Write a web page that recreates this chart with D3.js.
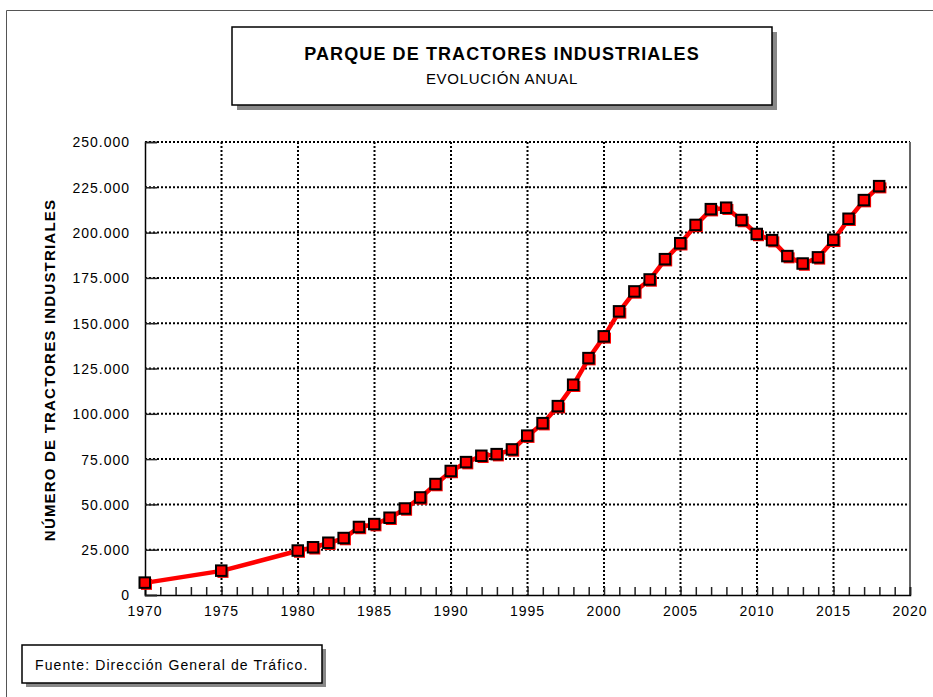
<!DOCTYPE html>
<html>
<head>
<meta charset="utf-8">
<script src="https://cdn.jsdelivr.net/npm/d3@7"></script>
<style>
  body { margin: 0; background: #fff; }
  text { font-family: "Liberation Sans", Arial, sans-serif; fill: #000; }
</style>
</head>
<body>
<div id="chart"></div>
<script>
// Data
var years = [1970, 1975, 1980, 1981, 1982, 1983, 1984, 1985, 1986, 1987, 1988, 1989,
  1990, 1991, 1992, 1993, 1994, 1995, 1996, 1997, 1998, 1999, 2000, 2001, 2002,
  2003, 2004, 2005, 2006, 2007, 2008, 2009, 2010, 2011, 2012, 2013, 2014, 2015,
  2016, 2017, 2018];
var tractors = [6700, 13300, 24400, 26200, 28700, 31300, 37400, 39000, 42500, 47600,
  53700, 61100, 68300, 73200, 76700, 77600, 80200, 87800, 94700, 104100, 115900,
  130600, 142600, 156400, 167400, 174000, 185200, 194000, 204100, 212800, 213600,
  206800, 199100, 195700, 186900, 182800, 186200, 195900, 207500, 217800, 225500];
var xTicks = [1970, 1975, 1980, 1985, 1990, 1995, 2000, 2005, 2010, 2015, 2020];
var yTicks = [0, 25000, 50000, 75000, 100000, 125000, 150000, 175000, 200000, 225000, 250000];

var svgWidth = 933;
var svgHeight = 697;

var margin = { top: 142, right: 23, bottom: 102, left: 145 };
var width = svgWidth - margin.left - margin.right;
var height = svgHeight - margin.top - margin.bottom;

var svg = d3.select("#chart")
  .append("svg")
  .attr("width", svgWidth)
  .attr("height", svgHeight);

// Outer frame (top and left edges only)
svg.append("path")
  .attr("d", "M6.5,697 V10.5 H933")
  .attr("fill", "none")
  .attr("stroke", "#555")
  .attr("stroke-width", 1);

// Title box with shadow
svg.append("rect").attr("x", 237).attr("y", 32).attr("width", 540).attr("height", 78).attr("fill", "#888");
svg.append("rect").attr("x", 232).attr("y", 27).attr("width", 540).attr("height", 78)
  .attr("fill", "#fff").attr("stroke", "#000").attr("stroke-width", 1.5);
svg.append("text")
  .attr("x", 502).attr("y", 60)
  .attr("text-anchor", "middle")
  .style("font-size", "18px")
  .style("font-weight", "bold")
  .style("letter-spacing", "1.1px")
  .text("PARQUE DE TRACTORES INDUSTRIALES");
svg.append("text")
  .attr("x", 502).attr("y", 84)
  .attr("text-anchor", "middle")
  .style("font-size", "15px")
  .style("letter-spacing", "0.7px")
  .text("EVOLUCIÓN ANUAL");

var chartGroup = svg.append("g")
  .attr("transform", `translate(${margin.left}, ${margin.top})`);

// Scales
var xLinearScale = d3.scaleLinear().domain([1970, 2020]).range([0, width]);
var yLinearScale = d3.scaleLinear().domain([0, 250000]).range([height, 0]);

// Grid lines (dotted)
chartGroup.append("g")
  .selectAll("line")
  .data(xTicks.slice(1, -1))
  .enter()
  .append("line")
  .attr("x1", d => xLinearScale(d))
  .attr("x2", d => xLinearScale(d))
  .attr("y1", 0)
  .attr("y2", height)
  .attr("stroke", "#000")
  .attr("stroke-width", 2)
  .attr("stroke-dasharray", "2,2");

chartGroup.append("g")
  .selectAll("line")
  .data(yTicks.slice(1))
  .enter()
  .append("line")
  .attr("x1", 0)
  .attr("x2", width)
  .attr("y1", d => yLinearScale(d))
  .attr("y2", d => yLinearScale(d))
  .attr("stroke", "#000")
  .attr("stroke-width", 2)
  .attr("stroke-dasharray", "2,2");

// Right border
chartGroup.append("line")
  .attr("x1", width).attr("x2", width)
  .attr("y1", 0).attr("y2", height)
  .attr("stroke", "#666")
  .attr("stroke-width", 2);

// Bottom axis: one tick per year, pointing up
var bottomAxis = d3.axisBottom(xLinearScale)
  .tickValues(d3.range(1970, 2021))
  .tickSize(-8)
  .tickFormat("");
chartGroup.append("g")
  .attr("class", "x-axis")
  .attr("transform", `translate(0, ${height})`)
  .call(bottomAxis);

chartGroup.append("g")
  .attr("transform", `translate(0, ${height})`)
  .selectAll("text")
  .data(xTicks)
  .enter()
  .append("text")
  .attr("x", d => xLinearScale(d))
  .attr("y", 21)
  .attr("text-anchor", "middle")
  .style("font-size", "14px")
  .style("letter-spacing", "1px")
  .text(d => d);

// Left axis: ticks pointing inside
var leftAxis = d3.axisLeft(yLinearScale)
  .tickValues(yTicks)
  .tickSize(-12)
  .tickPadding(15)
  .tickFormat(d => d === 0 ? "0" : d3.format(",")(d).replace(/,/g, "."));
chartGroup.append("g")
  .attr("class", "y-axis")
  .call(leftAxis);

chartGroup.selectAll(".x-axis path, .y-axis path")
  .attr("stroke", "#000")
  .attr("stroke-width", 1.5);
chartGroup.selectAll(".x-axis line, .y-axis line")
  .attr("stroke", "#222")
  .attr("stroke-width", 1.5);
chartGroup.selectAll(".y-axis text")
  .style("font-family", "'Liberation Sans', Arial, sans-serif")
  .style("font-size", "14px")
  .style("letter-spacing", "1px")
  .attr("dy", "0.35em")
  .attr("fill", "#000");

// Y axis label
svg.append("text")
  .attr("transform", "rotate(-90)")
  .attr("x", -370)
  .attr("y", 55)
  .attr("text-anchor", "middle")
  .style("font-size", "15px")
  .style("font-weight", "bold")
  .style("letter-spacing", "1.2px")
  .text("NÚMERO DE TRACTORES INDUSTRIALES");

// Line and markers
var points = years.map((y, i) => ({ year: y, value: tractors[i] }));

var line = d3.line()
  .x(d => xLinearScale(d.year))
  .y(d => yLinearScale(d.value));

chartGroup.append("path")
  .datum(points)
  .attr("d", line)
  .attr("fill", "none")
  .attr("stroke", "#ff0000")
  .attr("stroke-width", 4.5);

// marker shadow
chartGroup.append("g")
  .selectAll("rect")
  .data(points)
  .enter()
  .append("rect")
  .attr("x", d => xLinearScale(d.year) - 4)
  .attr("y", d => yLinearScale(d.value) - 4)
  .attr("width", 11)
  .attr("height", 11)
  .attr("fill", "#ff0000");

chartGroup.append("g")
  .selectAll("rect")
  .data(points)
  .enter()
  .append("rect")
  .attr("x", d => xLinearScale(d.year) - 5.5)
  .attr("y", d => yLinearScale(d.value) - 5.5)
  .attr("width", 10.5)
  .attr("height", 10.5)
  .attr("fill", "#ff0000")
  .attr("stroke", "#000")
  .attr("stroke-width", 2);

// Source box
svg.append("rect").attr("x", 26).attr("y", 649).attr("width", 300).attr("height", 38).attr("fill", "#888");
svg.append("rect").attr("x", 22).attr("y", 645).attr("width", 300).attr("height", 38)
  .attr("fill", "#fff").attr("stroke", "#000").attr("stroke-width", 1.5);
svg.append("text")
  .attr("x", 35).attr("y", 670)
  .style("font-size", "14px")
  .style("letter-spacing", "1.1px")
  .text("Fuente: Dirección General de Tráfico.");
</script>
</body>
</html>
